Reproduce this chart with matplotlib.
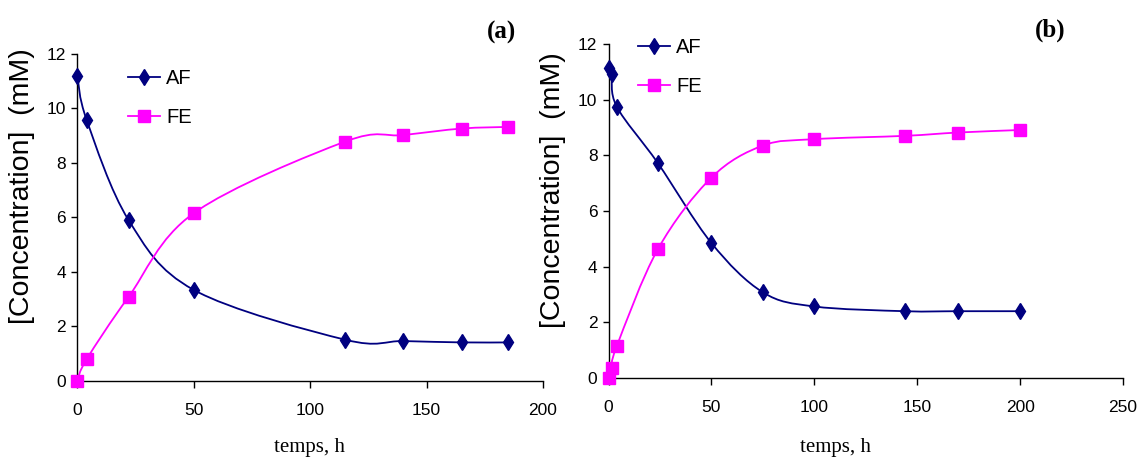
import matplotlib
matplotlib.use("Agg")
import matplotlib.pyplot as plt
from matplotlib.path import Path
from matplotlib.patches import PathPatch
from matplotlib.lines import Line2D

# ---- data ----
time_a = [0, 4, 22, 50, 115, 140, 165, 185]
af_a = [11.2, 9.58, 5.9, 3.33, 1.5, 1.45, 1.4, 1.4]
fe_a = [0.0, 0.78, 3.07, 6.15, 8.78, 9.02, 9.26, 9.32]

time_b = [0, 1.5, 4, 24, 50, 75, 100, 144, 170, 200]
af_b = [11.15, 10.92, 9.75, 7.72, 4.85, 3.08, 2.57, 2.4, 2.4, 2.4]
fe_b = [0.0, 0.35, 1.14, 4.63, 7.2, 8.35, 8.58, 8.7, 8.82, 8.91]

series_names = ["AF", "FE"]
panel_labels = ["(a)", "(b)"]
x_label = "temps, h"
y_label = "[Concentration]  (mM)"

NAVY = "#000080"
MAGENTA = "#FF00FF"

plt.rcParams["font.family"] = ["Liberation Sans", "DejaVu Sans"]

W, H = 1145, 461
fig = plt.figure(figsize=(W / 100, H / 100), dpi=100)


def smooth_path(xs, ys):
    """Excel-like smoothed line: cubic Bezier segments (Catmull-Rom control points)."""
    n = len(xs)
    verts = [(xs[0], ys[0])]
    codes = [Path.MOVETO]
    for i in range(n - 1):
        x0, y0 = (xs[i - 1], ys[i - 1]) if i > 0 else (xs[i], ys[i])
        x1, y1 = xs[i], ys[i]
        x2, y2 = xs[i + 1], ys[i + 1]
        x3, y3 = (xs[i + 2], ys[i + 2]) if i + 2 < n else (xs[i + 1], ys[i + 1])
        c1 = (x1 + (x2 - x0) / 6.0, y1 + (y2 - y0) / 6.0)
        c2 = (x2 - (x3 - x1) / 6.0, y2 - (y3 - y1) / 6.0)
        verts += [c1, c2, (x2, y2)]
        codes += [Path.CURVE4] * 3
    return Path(verts, codes)


def px_rect(left, right, top, bottom):
    return [left / W, 1 - bottom / H, (right - left) / W, (bottom - top) / H]


def draw_panel(rect_px, t, af, fe, xmax, label, label_px, xlabel_x, ylabel_px,
               legend_px):
    ax = fig.add_axes(px_rect(*rect_px))
    for ys, col, mk, ms in [(af, NAVY, "d", 8.5), (fe, MAGENTA, "s", 8)]:
        ax.add_patch(PathPatch(smooth_path(t, ys), facecolor="none",
                               edgecolor=col, lw=1.3, clip_on=False))
        ax.plot(t, ys, linestyle="none", marker=mk, color=col, ms=ms,
                markeredgecolor=col, clip_on=False, zorder=3)
    ax.set_xlim(0, xmax)
    ax.set_ylim(0, 12)
    ax.set_xticks(range(0, xmax + 1, 50))
    ax.set_yticks(range(0, 13, 2))
    for s in ["top", "right"]:
        ax.spines[s].set_visible(False)
    for s in ["left", "bottom"]:
        ax.spines[s].set_linewidth(1.0)
    ax.tick_params(axis="y", direction="out", length=4, width=1, pad=4,
                   labelsize=12.5)
    ax.tick_params(axis="x", direction="out", length=5, width=1, pad=11,
                   labelsize=12.5)
    handles = [Line2D([], [], color=NAVY, marker="d", ms=8.5, lw=1.3),
               Line2D([], [], color=MAGENTA, marker="s", ms=8, lw=1.3)]
    fig.legend(handles, series_names, loc="upper left",
               bbox_to_anchor=(legend_px[0] / W, 1 - legend_px[1] / H),
               bbox_transform=fig.transFigure,
               frameon=False, fontsize=14.5, handlelength=1.6,
               handletextpad=0.3, labelspacing=1.0, borderaxespad=0,
               borderpad=0)
    fig.text(label_px[0] / W, 1 - label_px[1] / H, label,
             family="Liberation Serif", fontweight="bold", fontsize=18,
             ha="center", va="center")
    fig.text(xlabel_x / W, 1 - 447 / H, x_label, family="Liberation Serif",
             fontsize=15, ha="center", va="center")
    fig.text(ylabel_px[0] / W, 1 - ylabel_px[1] / H, y_label, rotation=90,
             fontsize=20.5, ha="center", va="center")
    return ax


draw_panel((77.3, 543, 54, 380.5), time_a, af_a, fe_a, 200, panel_labels[0],
           (502, 32), 310, (22, 186.5), (128, 69))
draw_panel((608.5, 1123, 44, 378), time_b, af_b, fe_b, 250, panel_labels[1],
           (1050, 30), 836, (553, 190), (638, 38))

fig.savefig("out.png", dpi=100)
